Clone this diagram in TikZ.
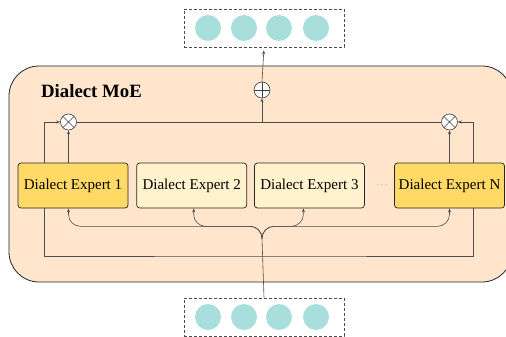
\documentclass[tikz,border=0pt]{standalone}
\usepackage{fontspec}
\setmainfont{Liberation Serif}
\usetikzlibrary{positioning, arrows.meta}
\definecolor{moefill}{HTML}{FEE5CC}
\definecolor{hotfill}{HTML}{FFD966}
\definecolor{coolfill}{HTML}{FFF2CC}
\definecolor{tokfill}{HTML}{A8DFDD}

\begin{document}
\begin{tikzpicture}[x=1pt, y=-1pt,
  expert node/.style={rectangle, rounded corners=3pt, draw=black!85, line width=0.7pt,
    minimum width=110pt, minimum height=45pt, inner sep=0pt, font=\fontsize{15}{17}\selectfont},
  hot expert/.style={expert node, fill=hotfill},
  cool expert/.style={expert node, fill=coolfill},
  token/.style={circle, fill=tokfill, minimum size=26pt, inner sep=0pt},
  vec box/.style={draw=black!70, dash pattern=on 3pt off 2pt, line width=0.7pt,
    minimum width=160pt, minimum height=38pt},
  op node/.style={circle, draw=black!75, fill=white, minimum size=16pt, inner sep=0pt, line width=0.6pt},
  plus node/.style={op node, path picture={\draw[black!75, line width=0.6pt]
    (path picture bounding box.north) -- (path picture bounding box.south)
    (path picture bounding box.west) -- (path picture bounding box.east);}},
  times node/.style={op node, path picture={\draw[black!75, line width=0.6pt]
    (path picture bounding box.north west) -- (path picture bounding box.south east)
    (path picture bounding box.north east) -- (path picture bounding box.south west);}},
  link/.style={draw=black!70, line width=0.6pt},
  arr/.style={link, -{Stealth[length=4pt, width=3pt]}}]

\useasboundingbox (0,0) rectangle (506,337);

\node[draw=black!85, fill=moefill, rounded corners=30pt, line width=0.8pt,
  minimum width=503pt, minimum height=216pt] (moe) at (260.5,174) {};
\node[font=\fontsize{18.8}{20}\selectfont\bfseries] (title) at (91.5,91) {Dialect MoE};

\node[vec box] (out) at (264,28) {};
\node[vec box] (in) at (264,317) {};
\foreach \i/\x in {1/208,2/244,3/279,4/316}{
  \node[token] (o\i) at (\x,28) {};
  \node[token] (n\i) at (\x,317) {};
}

\node[plus node] (sum) at (262,90) {};
\node[times node] (ot1) at (68.5,122) {};
\node[times node] (otN) at (449.5,122) {};

\coordinate (gl) at (44,122);
\coordinate (gr) at (473,122);
\coordinate (gbot) at (262,256);
\draw[link] (gl) |- (gbot) -| (gr);

\node[hot expert] (E1) at (73,185.5) {Dialect Expert 1};
\node[cool expert] (E2) [right=8pt of E1] {Dialect Expert 2};
\node[cool expert] (E3) [right=7pt of E2] {Dialect Expert 3};
\node[hot expert] (EN) at (449.5,185.5) {Dialect Expert N};
\node[text=black!55, font=\small] (dots) at (382,185) {$\cdots$};

\coordinate (fork) at (262,238);
\draw[link] (in.north) -- (fork);
\coordinate (t1) at (ot1 |- E1.south);
\coordinate (t2) at ([xshift=2pt]E2.south);
\coordinate (t3) at ([xshift=-6pt]E3.south);
\coordinate (tN) at (otN |- EN.south);
\foreach \t in {t1,t2,t3,tN}
  \draw[arr, rounded corners=12pt] (fork) |- ([yshift=-18pt]\t) -- (\t);

\draw[arr] (gl) -- (ot1.west);
\draw[arr] (gr) -- (otN.east);
\draw[arr] (t1 |- E1.north) -- (ot1.south);
\draw[arr] (tN |- EN.north) -- (otN.south);
\draw[link] (ot1.east) -- (otN.west);
\coordinate (mid) at (sum |- ot1);
\draw[arr] (mid) -- (sum.south);
\draw[arr, shorten >=3pt] (sum.north) -- (out.south);
\end{tikzpicture}
\end{document}
